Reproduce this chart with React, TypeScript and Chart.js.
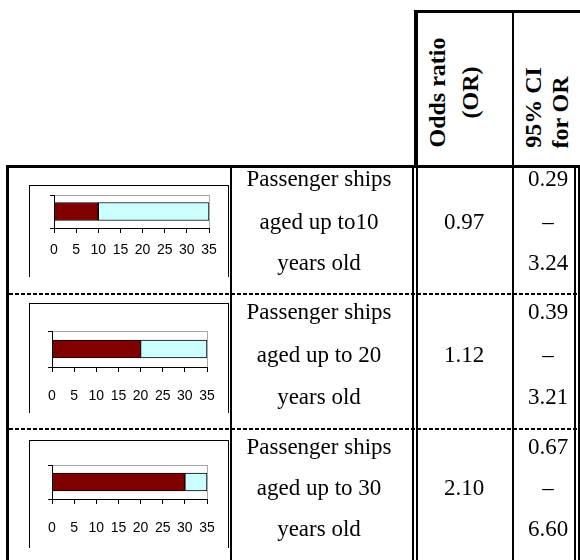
import React, { useEffect, useRef } from "react";
import { Chart, registerables } from "chart.js";

Chart.register(...registerables);

// ---------------- data ----------------
const rowLabelLines: string[][] = [
  ["Passenger ships", "aged up to10", "years old"],
  ["Passenger ships", "aged up to 20", "years old"],
  ["Passenger ships", "aged up to 30", "years old"],
];
const shipAgeLimit = [10, 20, 30];
const remainderTo35 = [25, 15, 5];
const ageTicks = [0, 5, 10, 15, 20, 25, 30, 35];
const oddsRatio = ["0.97", "1.12", "2.10"];
const ciLower = ["0.29", "0.39", "0.67"];
const ciUpper = ["3.24", "3.21", "6.60"];
const headerOR = ["Odds ratio", "(OR)"];
const headerCI = ["95% CI", "for OR"];

// ---------------- layout ----------------
const SERIF = "'Liberation Serif', 'Times New Roman', serif";
const SANS = "'Liberation Sans Narrow', 'Arial Narrow', 'Liberation Sans', Arial, sans-serif";
const ROW_TOP = [168, 294, 429];
const LINE_Y = [
  [179, 222, 263],
  [312, 355, 397],
  [447, 488, 529],
];
const FRAME_L = 29;
const FRAME_R = 228;
const CHART_BOX = [
  { frameTop: 185, frameBottom: 277, plotTop: 187, plotBottom: 228, plotLeft: 54, plotRight: 209, labelPad: 9 },
  { frameTop: 303, frameBottom: 413, plotTop: 323, plotBottom: 367, plotLeft: 52, plotRight: 207, labelPad: 16 },
  { frameTop: 440, frameBottom: 548, plotTop: 457, plotBottom: 499, plotLeft: 52, plotRight: 207, labelPad: 16 },
];
const TICK_FONT = 14;
const TICK_LEN = 5;
const Y_TICK_LEN = 4;
const BODY_SIZE = 23;
const HEAD_SIZE = 24;

function MiniChart({ idx }: { idx: number }) {
  const ref = useRef<HTMLCanvasElement | null>(null);
  const b = CHART_BOX[idx];
  const cLeft = FRAME_L + 1;
  const cTop = b.frameTop + 1;
  const cW = FRAME_R - cLeft;
  const cH = b.frameBottom - cTop;

  useEffect(() => {
    if (!ref.current) return;
    const axisH = TICK_LEN + b.labelPad + TICK_FONT * 1.2 + 2;
    const chart = new Chart(ref.current, {
      type: "bar",
      data: {
        labels: [rowLabelLines[idx].join(" ")],
        datasets: [
          {
            data: [shipAgeLimit[idx]],
            backgroundColor: "#800000",
            borderColor: "#000000",
            borderWidth: 1,
            borderSkipped: false,
            barThickness: 18,
          },
          {
            data: [remainderTo35[idx]],
            backgroundColor: "#ccffff",
            borderColor: "#000000",
            borderWidth: 1,
            borderSkipped: false,
            barThickness: 18,
          },
        ],
      },
      options: {
        indexAxis: "y",
        animation: false,
        responsive: false,
        maintainAspectRatio: false,
        events: [],
        layout: {
          padding: {
            left: b.plotLeft - cLeft - Y_TICK_LEN,
            right: FRAME_R - b.plotRight,
            top: b.plotTop - cTop,
            bottom: Math.max(0, cH - (b.plotBottom - cTop) - axisH),
          },
        },
        plugins: { legend: { display: false }, tooltip: { enabled: false }, title: { display: false } },
        scales: {
          x: {
            type: "linear",
            position: "bottom",
            min: 0,
            max: 35,
            stacked: true,
            afterBuildTicks: (axis: any) => {
              axis.ticks = ageTicks.map((v) => ({ value: v }));
            },
            afterFit: (axis: any) => {
              axis.height = axisH;
              axis.paddingLeft = 0;
              axis.paddingRight = 0;
            },
            ticks: {
              color: "#000000",
              font: { family: SANS, size: TICK_FONT },
              padding: b.labelPad,
              autoSkip: false,
              maxRotation: 0,
              minRotation: 0,
            },
            grid: {
              display: true,
              drawOnChartArea: true,
              drawTicks: true,
              tickLength: TICK_LEN,
              tickColor: "#000000",
              color: (c: any) => (c.tick && c.tick.value === 35 ? "#a8a8a8" : "rgba(0,0,0,0)"),
              lineWidth: 1,
            },
            border: { display: true, color: "#000000", width: 1 },
          },
          x2: {
            type: "linear",
            position: "top",
            min: 0,
            max: 35,
            grid: { display: false },
            ticks: { display: false },
            border: { display: true, color: "#a8a8a8", width: 1 },
          },
          y: {
            type: "category",
            stacked: true,
            ticks: { display: false },
            grid: {
              display: true,
              drawOnChartArea: false,
              drawTicks: true,
              tickLength: Y_TICK_LEN,
              tickColor: "#000000",
              offset: true,
            },
            border: { display: true, color: "#000000", width: 1 },
          },
        },
      } as any,
    });
    return () => chart.destroy();
  }, [idx]);

  return (
    <>
      <div
        style={{
          position: "absolute",
          left: FRAME_L,
          top: b.frameTop,
          width: FRAME_R - FRAME_L + 1,
          height: b.frameBottom - b.frameTop,
          borderTop: "1px solid #000",
          borderLeft: "1px solid #000",
          borderRight: "1px solid #000",
          boxSizing: "border-box",
        }}
      />
      <canvas
        ref={ref}
        width={cW}
        height={cH}
        style={{ position: "absolute", left: cLeft, top: cTop, width: cW, height: cH }}
      />
    </>
  );
}

function Line({ x, y, w, h }: { x: number; y: number; w: number; h: number }) {
  return <div style={{ position: "absolute", left: x, top: y, width: w, height: h, background: "#000" }} />;
}

function Dashed({ x, y, w }: { x: number; y: number; w: number }) {
  return (
    <div
      style={{
        position: "absolute",
        left: x,
        top: y,
        width: w,
        height: 2,
        background: "repeating-linear-gradient(to right, #000 0px, #000 4px, transparent 4px, transparent 6px)",
      }}
    />
  );
}

function Txt({ cx, cy, text, size }: { cx: number; cy: number; text: string; size: number }) {
  const lh = Math.round(size * 1.3);
  return (
    <div
      style={{
        position: "absolute",
        left: cx - 100,
        top: cy - lh / 2,
        width: 200,
        height: lh,
        lineHeight: lh + "px",
        textAlign: "center",
        fontFamily: SERIF,
        fontSize: size,
        color: "#000",
        whiteSpace: "nowrap",
      }}
    >
      {text}
    </div>
  );
}

// rotated header text; (cx, cy) is the centre of the rotated line
function VTxt({ cx, cy, text, size }: { cx: number; cy: number; text: string; size: number }) {
  const lh = Math.round(size * 1.3);
  const w = 180;
  return (
    <div
      style={{
        position: "absolute",
        left: cx - w / 2,
        top: cy - lh / 2,
        width: w,
        height: lh,
        lineHeight: lh + "px",
        textAlign: "center",
        fontFamily: SERIF,
        fontSize: size,
        fontWeight: "bold",
        color: "#000",
        whiteSpace: "nowrap",
        transform: "rotate(-90deg)",
      }}
    >
      {text}
    </div>
  );
}

export default function App() {
  return (
    <div
      style={{
        position: "absolute",
        left: 0,
        top: 0,
        width: 580,
        height: 560,
        overflow: "hidden",
        background: "#fff",
      }}
    >
      {/* header box */}
      <Line x={414} y={10} w={166} h={3} />
      <Line x={414} y={10} w={4} h={158} />
      <Line x={512} y={10} w={2} h={550} />
      <Line x={6} y={165} w={574} h={3} />
      {/* body verticals */}
      <Line x={6} y={165} w={3} h={395} />
      <Line x={230} y={165} w={2} h={395} />
      <Line x={412} y={165} w={2} h={395} />
      <Line x={416} y={165} w={2} h={395} />
      <Line x={574} y={168} w={2} h={392} />
      <Line x={578} y={168} w={2} h={392} />
      {/* row separators */}
      <Dashed x={9} y={ROW_TOP[1] - 1} w={571} />
      <Dashed x={9} y={ROW_TOP[2] - 1} w={571} />

      {/* header text */}
      <VTxt cx={437} cy={92} text={headerOR[0]} size={HEAD_SIZE} />
      <VTxt cx={470} cy={92} text={headerOR[1]} size={HEAD_SIZE} />
      <VTxt cx={533} cy={107} text={headerCI[0]} size={HEAD_SIZE} />
      <VTxt cx={560} cy={112} text={headerCI[1]} size={HEAD_SIZE} />

      {rowLabelLines.map((lines, r) => (
        <React.Fragment key={r}>
          <MiniChart idx={r} />
          {lines.map((t, k) => (
            <Txt key={k} cx={319} cy={LINE_Y[r][k]} text={t} size={BODY_SIZE} />
          ))}
          <Txt cx={464} cy={LINE_Y[r][1]} text={oddsRatio[r]} size={BODY_SIZE} />
          <Txt cx={548} cy={LINE_Y[r][0]} text={ciLower[r]} size={BODY_SIZE} />
          <Txt cx={548} cy={LINE_Y[r][1]} text={"\u2013"} size={BODY_SIZE} />
          <Txt cx={548} cy={LINE_Y[r][2]} text={ciUpper[r]} size={BODY_SIZE} />
        </React.Fragment>
      ))}
    </div>
  );
}
